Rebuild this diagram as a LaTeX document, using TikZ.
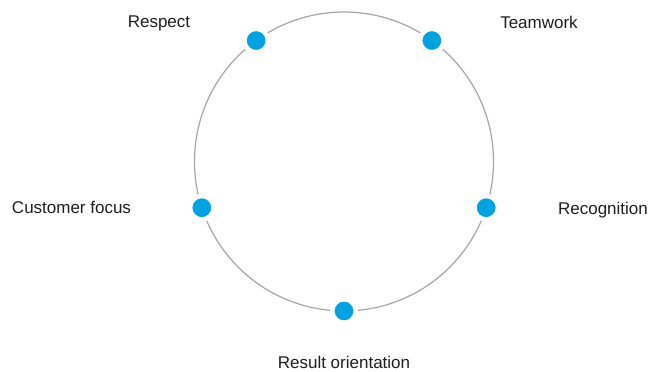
\documentclass[tikz,border=0pt]{standalone}
\usepackage{fontspec}
\setmainfont{Liberation Sans}
\usepackage{xcolor}
\usepackage{tikz}
\usetikzlibrary{calc}

\definecolor{dotblue}{RGB}{0,163,224}
\definecolor{ringgray}{RGB}{165,165,165}
\definecolor{labeltext}{RGB}{30,30,30}

\begin{document}
\begin{tikzpicture}[x=1pt,y=1pt,
    valuedot/.style={circle,fill=dotblue,draw=white,line width=4.5pt,minimum size=23.5pt,inner sep=0pt},
    valuelabel/.style={anchor=base,text=labeltext,font=\fontsize{17}{20}\selectfont,inner sep=0pt}]
\useasboundingbox (0,0) rectangle (649,372);

% the ring
\coordinate (centre) at (344,210.5);
\draw[ringgray,line width=1.2pt] (centre) circle (149.5);

% dots on the ring
\foreach \name/\ang in {teamwork/54,recognition/-18,result/-90,customer/198,respect/126}
    \node[valuedot] (\name) at ($(centre)+(\ang:149.5)$) {};

% labels
\node[valuelabel] (respectlabel) at (159,344) {Respect};
\node[valuelabel] (teamworklabel) at (539,343) {Teamwork};
\node[valuelabel] (customerlabel) at (71.5,158) {Customer focus};
\node[valuelabel] (recognitionlabel) at (603,157) {Recognition};
\node[valuelabel] (resultlabel) at (344,3) {Result orientation};
\end{tikzpicture}
\end{document}
